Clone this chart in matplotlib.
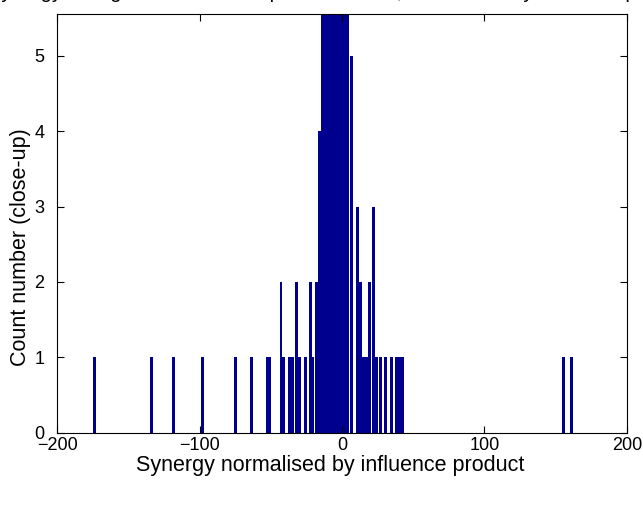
import numpy as np
import matplotlib
matplotlib.use('Agg')
import matplotlib.pyplot as plt

plt.rcParams['font.family'] = ['Liberation Sans', 'DejaVu Sans']

# histogram bins (centre of bin, count)
bin_centres = [-173.4, -133.4, -118.0, -97.6, -74.4, -63.2, -52.6, -50.6,
               -42.8, -40.8, -36.6, -34.6, -31.6, -29.6, -25.4, -22.4, -20.4,
               -17.9, -15.9, -13.9, -11.9, -9.9, -7.9, -5.9, -3.9, -1.9, 0.1,
               2.1, 4.1, 6.4, 11.0, 13.0, 15.2, 17.4, 19.6, 21.9, 24.2, 26.7,
               30.2, 35.0, 38.6, 40.6, 42.4, 155.8, 161.4]
bin_counts = [1, 1, 1, 1, 1, 1, 1, 1,
              2, 1, 1, 1, 2, 1, 1, 2, 1,
              2, 4, 7, 10, 14, 19, 26, 30, 24, 17,
              11, 8, 5, 3, 2, 1, 1, 2, 3, 1, 1,
              1, 1, 1, 1, 1, 1, 1]
bin_width = 2.0

fig = plt.figure(figsize=(6.43, 5.14), dpi=100)
ax = fig.add_axes([0.0887, 0.1576, 0.8863, 0.8152])

ax.bar(bin_centres, bin_counts, width=bin_width * 1.05, color='#00008f',
       edgecolor='none', align='center')

ax.set_xlim(-200, 200)
ax.set_ylim(0, 5.55)
ax.set_xticks([-200, -100, 0, 100, 200])
ax.set_yticks([0, 1, 2, 3, 4, 5])
ax.tick_params(direction='in', top=True, right=True, labelsize=13, length=5)
ax.tick_params(axis='y', pad=9)
ax.tick_params(axis='x', pad=3)
for s in ax.spines.values():
    s.set_linewidth(0.8)

ax.set_xlabel('Synergy normalised by influence product', fontsize=15.5)
ax.xaxis.set_label_coords(0.48, -0.052, transform=ax.transAxes)
ax.xaxis.label.set_va('top')
ax.set_ylabel('Count number (close-up)', fontsize=15.5)
ax.yaxis.set_label_coords(-0.046, 0.444)

# title is mostly cut off at the top of the image
fig.text(0.53, 1.004, 'Synergy histogram between all pairs of nodes, normalised by influence product',
         ha='center', va='baseline', fontsize=14.5)

fig.savefig('out.png', dpi=100)
